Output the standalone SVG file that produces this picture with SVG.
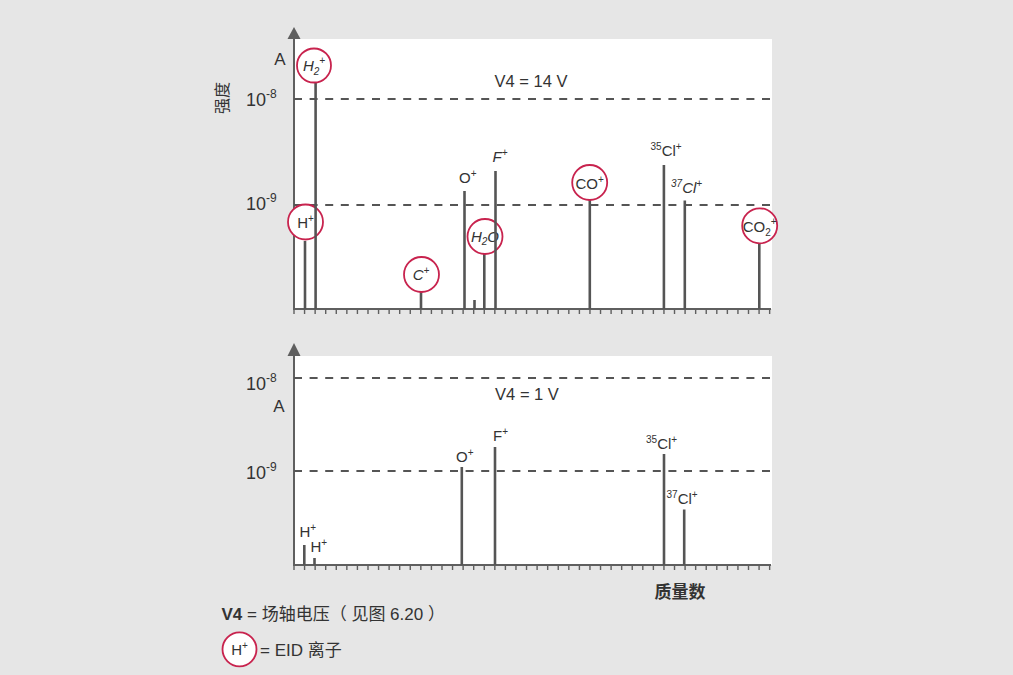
<svg xmlns="http://www.w3.org/2000/svg" width="1013" height="675" viewBox="0 0 1013 675">
<defs>
<style>
text{font-family:"Liberation Sans","Noto Sans CJK SC",sans-serif;fill:#333;}
.lbl{font-size:15px;}
.sup{font-size:10px;}
.it{font-style:italic;}
.ax{stroke:#5f5f5f;stroke-width:2;fill:none;}
.tick{stroke:#5f5f5f;stroke-width:5;stroke-dasharray:1.4 9.17;fill:none;}
.dash{stroke:#555;stroke-width:2;stroke-dasharray:8 7.6;fill:none;}
.pk{stroke:#555;stroke-width:2.6;}
.ring{fill:#fff;stroke:#c8234e;stroke-width:1.8;}
.arrow{fill:#5f5f5f;}
.tl{font-size:18px;}
.tsup{font-size:12px;}
</style>
</defs>
<rect x="0" y="0" width="1013" height="675" fill="#e6e6e6"/>

<!-- Top chart -->
<g id="top-chart">
<rect x="294" y="39" width="478" height="270" fill="#fff"/>
<g id="top-axes">
<line class="ax" x1="294" y1="38" x2="294" y2="309"/>
<line class="ax" x1="293" y1="309" x2="771" y2="309"/>
<line class="tick" x1="293.3" y1="311.5" x2="771" y2="311.5"/>
<polygon class="arrow" points="294,27 287.5,39 300.5,39"/>
<line class="dash" x1="294" y1="99" x2="772" y2="99"/>
<line class="dash" x1="294" y1="205" x2="772" y2="205"/>
<text x="280" y="65" font-size="17" text-anchor="middle">A</text>
<text transform="translate(228,98) rotate(-90)" text-anchor="middle" font-size="16">强度</text>
<text class="tl" x="246" y="106">10<tspan class="tsup" dy="-8">-8</tspan></text>
<text class="tl" x="246" y="210">10<tspan class="tsup" dy="-8">-9</tspan></text>
<text x="531" y="87" font-size="16.5" text-anchor="middle">V4 = 14 V</text>
</g>
<g id="t-H">
<line class="pk" x1="305" y1="241" x2="305" y2="309"/>
<circle class="ring" cx="305.5" cy="222" r="17.5"/>
<text class="lbl" x="305.5" y="228" text-anchor="middle">H<tspan class="sup" dy="-6">+</tspan></text>
</g>
<g id="t-H2">
<line class="pk" x1="315.6" y1="83" x2="315.6" y2="309"/>
<circle class="ring" cx="314" cy="65.5" r="17"/>
<text class="lbl it" x="314" y="71" text-anchor="middle" font-size="16">H<tspan class="sup" dy="4">2</tspan><tspan class="sup" dy="-11">+</tspan></text>
</g>
<g id="t-C">
<line class="pk" x1="421" y1="291" x2="421" y2="309"/>
<circle class="ring" cx="421.5" cy="274.5" r="17.5"/>
<text class="lbl it" x="421" y="280" text-anchor="middle" font-size="16">C<tspan class="sup" dy="-6">+</tspan></text>
</g>
<g id="t-O">
<line class="pk" x1="464.5" y1="191" x2="464.5" y2="309"/>
<text class="lbl" x="459" y="183">O<tspan class="sup" dy="-6">+</tspan></text>
</g>
<g id="t-17">
<line class="pk" x1="474.5" y1="300" x2="474.5" y2="309"/>
</g>
<g id="t-H2O">
<line class="pk" x1="484.3" y1="254" x2="484.3" y2="309"/>
<circle class="ring" cx="485" cy="236.5" r="17.5"/>
<text class="lbl it" x="485" y="242" text-anchor="middle">H<tspan class="sup" dy="3">2</tspan><tspan dy="-3">O</tspan></text>
</g>
<g id="t-F">
<line class="pk" x1="495.5" y1="171" x2="495.5" y2="309"/>
<text class="lbl it" x="492.5" y="162">F<tspan class="sup" dy="-6">+</tspan></text>
</g>
<g id="t-CO">
<line class="pk" x1="589.8" y1="200" x2="589.8" y2="309"/>
<circle class="ring" cx="589.7" cy="182.5" r="17.5"/>
<text class="lbl" x="589.7" y="188.5" text-anchor="middle">CO<tspan class="sup" dy="-6">+</tspan></text>
</g>
<g id="t-35Cl">
<line class="pk" x1="663.9" y1="165" x2="663.9" y2="309"/>
<text class="lbl" x="650.5" y="156"><tspan class="sup" dy="-6">35</tspan><tspan dy="6">Cl</tspan><tspan class="sup" dy="-6">+</tspan></text>
</g>
<g id="t-37Cl">
<line class="pk" x1="684.8" y1="200.5" x2="684.8" y2="309"/>
<text class="lbl it" x="671" y="193"><tspan class="sup" dy="-6">37</tspan><tspan dy="6">Cl</tspan><tspan class="sup" dy="-6">+</tspan></text>
</g>
<g id="t-CO2">
<line class="pk" x1="759.3" y1="243" x2="759.3" y2="309"/>
<circle class="ring" cx="759.7" cy="225.8" r="17.5"/>
<text class="lbl" x="759.7" y="231.5" text-anchor="middle">CO<tspan class="sup" dy="4">2</tspan><tspan class="sup" dy="-11">+</tspan></text>
</g>
</g>

<!-- Bottom chart -->
<g id="bottom-chart">
<rect x="294" y="356" width="478" height="209" fill="#fff"/>
<g id="bottom-axes">
<line class="ax" x1="294" y1="355" x2="294" y2="565"/>
<line class="ax" x1="293" y1="565" x2="771" y2="565"/>
<line class="tick" x1="293.3" y1="567.5" x2="771" y2="567.5"/>
<polygon class="arrow" points="294,343 287.5,356 300.5,356"/>
<line class="dash" x1="294" y1="378" x2="772" y2="378"/>
<line class="dash" x1="294" y1="471" x2="772" y2="471"/>
<text class="tl" x="246" y="390">10<tspan class="tsup" dy="-8">-8</tspan></text>
<text class="tl" x="246" y="479">10<tspan class="tsup" dy="-8">-9</tspan></text>
<text x="279" y="412" font-size="17" text-anchor="middle">A</text>
<text x="527" y="400" font-size="16.5" text-anchor="middle">V4 = 1 V</text>
<text x="680" y="598" font-size="17" font-weight="bold" fill="#3a3a3a" text-anchor="middle">质量数</text>
</g>
<g id="b-H1">
<line class="pk" x1="304.3" y1="545" x2="304.3" y2="565"/>
<text class="lbl" x="299.5" y="537">H<tspan class="sup" dy="-6">+</tspan></text>
</g>
<g id="b-H2">
<line class="pk" x1="314.5" y1="558" x2="314.5" y2="565"/>
<text class="lbl" x="310.5" y="552">H<tspan class="sup" dy="-6">+</tspan></text>
</g>
<g id="b-O">
<line class="pk" x1="461.8" y1="467" x2="461.8" y2="565"/>
<text class="lbl" x="456" y="462">O<tspan class="sup" dy="-6">+</tspan></text>
</g>
<g id="b-F">
<line class="pk" x1="495" y1="447" x2="495" y2="565"/>
<text class="lbl" x="493" y="441">F<tspan class="sup" dy="-6">+</tspan></text>
</g>
<g id="b-35Cl">
<line class="pk" x1="664" y1="454" x2="664" y2="565"/>
<text class="lbl" x="646" y="449"><tspan class="sup" dy="-6">35</tspan><tspan dy="6">Cl</tspan><tspan class="sup" dy="-6">+</tspan></text>
</g>
<g id="b-37Cl">
<line class="pk" x1="684.2" y1="509.5" x2="684.2" y2="565"/>
<text class="lbl" x="666.5" y="503.5"><tspan class="sup" dy="-6">37</tspan><tspan dy="6">Cl</tspan><tspan class="sup" dy="-6">+</tspan></text>
</g>
</g>

<!-- Legend -->
<g id="legend">
<text x="221.5" y="620" font-size="17"><tspan font-weight="bold">V4</tspan> = 场轴电压（ 见图 6.20 ）</text>
<circle class="ring" cx="239.5" cy="649.3" r="17"/>
<text class="lbl" x="239.5" y="655" text-anchor="middle" font-size="16">H<tspan class="sup" dy="-6">+</tspan></text>
<text x="260" y="656" font-size="17">= EID 离子</text>
</g>
<g id="connectors"></g>
</svg>
